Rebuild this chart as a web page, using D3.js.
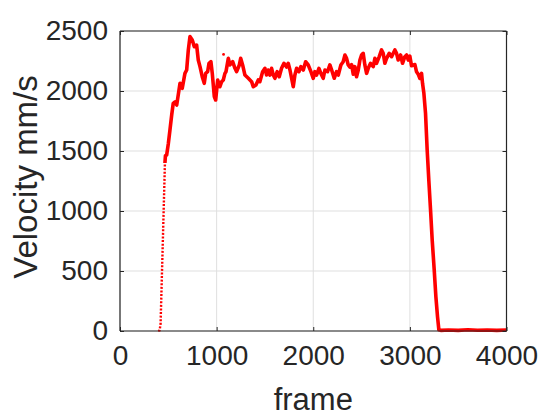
<!DOCTYPE html>
<html>
<head>
<meta charset="utf-8">
<script src="https://cdn.jsdelivr.net/npm/d3@7"></script>
<style>
  html, body { margin: 0; padding: 0; background: #fff; }
  svg { display: block; }
  text { font-family: "Liberation Sans", Arial, Helvetica, sans-serif; fill: #262626; }
</style>
</head>
<body>
<svg id="chart" width="560" height="420"></svg>
<script>
const frames = [395,410,420,440,455,465,470,483,500,517,535,551,570,587,605,621,644,672,690,707,724,748,769,793,810,828,851,872,887,907,921,941,955,976,990,1011,1034,1052,1069,1086,1097,1121,1138,1166,1190,1207,1235,1249,1269,1293,1328,1362,1379,1407,1431,1448,1476,1500,1517,1534,1552,1569,1586,1603,1627,1648,1672,1697,1724,1741,1759,1783,1793,1810,1828,1852,1872,1897,1921,1948,1976,2000,2017,2034,2059,2079,2103,2121,2148,2172,2196,2217,2241,2259,2286,2310,2328,2345,2362,2379,2397,2414,2431,2448,2466,2483,2500,2517,2534,2552,2569,2593,2621,2638,2655,2683,2707,2724,2741,2759,2786,2811,2828,2845,2862,2879,2904,2924,2948,2966,2983,3000,3017,3034,3052,3069,3086,3103,3121,3131,3145,3162,3179,3196,3214,3231,3252,3269,3286,3300,3320,3400,3500,3600,3700,3800,3900,4000];
const velocity = [0,5,60,650,1100,1400,1460,1467,1560,1675,1800,1897,1910,1883,1980,2064,2022,2147,2175,2342,2453,2425,2369,2383,2258,2203,2119,2064,2147,2161,2231,2244,2147,1953,1925,2092,2036,2078,2092,2147,2161,2272,2217,2244,2189,2161,2217,2272,2217,2133,2106,2078,2036,2050,2092,2078,2161,2189,2133,2175,2133,2189,2133,2106,2161,2119,2189,2231,2200,2231,2175,2078,2036,2133,2189,2161,2203,2175,2244,2217,2161,2106,2161,2133,2189,2147,2106,2175,2161,2217,2161,2106,2161,2133,2217,2244,2300,2272,2217,2200,2220,2140,2203,2119,2175,2258,2300,2314,2217,2147,2189,2231,2203,2272,2231,2286,2342,2314,2231,2272,2314,2286,2314,2342,2314,2258,2300,2231,2286,2300,2258,2290,2210,2217,2220,2160,2140,2106,2147,2064,1981,1814,1508,1258,1008,758,508,286,119,10,5,8,5,10,6,8,5,8];
const outlierFrames = [1072];
const outlierVelocity = [2305];
const xTicks = [0, 1000, 2000, 3000, 4000];
const yTicks = [0, 500, 1000, 1500, 2000, 2500];
const xLabel = "frame";
const yLabel = "Velocity mm/s";
const riseEnd = 465;

const svg = d3.select("#chart");
const L = 120, R = 506.5, T = 31, B = 331;
const x = d3.scaleLinear().domain([0, 4000]).range([L, R]);
const y = d3.scaleLinear().domain([0, 2500]).range([B, T]);
const axisColor = "#262626";
const gridColor = "#dfdfdf";

// grid
const grid = svg.append("g");
grid.selectAll("line.gx").data(xTicks).enter().append("line")
  .attr("x1", d => x(d)).attr("x2", d => x(d)).attr("y1", T).attr("y2", B)
  .attr("stroke", gridColor).attr("stroke-width", 1);
grid.selectAll("line.gy").data(yTicks).enter().append("line")
  .attr("y1", d => y(d)).attr("y2", d => y(d)).attr("x1", L).attr("x2", R)
  .attr("stroke", gridColor).attr("stroke-width", 1);

// data
const pts = frames.map((f, i) => ({ f, v: velocity[i] }));
const line = d3.line().x(d => x(d.f)).y(d => y(d.v));
const rise = pts.filter(d => d.f <= riseEnd);
const rest = pts.filter(d => d.f >= riseEnd);
svg.append("path").datum(rise).attr("d", line)
  .attr("fill", "none").attr("stroke", "#ff0000").attr("stroke-width", 2.4)
  .attr("stroke-dasharray", "2,1.6");
svg.append("path").datum(rest).attr("d", line)
  .attr("fill", "none").attr("stroke", "#ff0000").attr("stroke-width", 3.6)
  .attr("stroke-linejoin", "round");
svg.selectAll("circle.o").data(outlierFrames).enter().append("circle")
  .attr("cx", d => x(d)).attr("cy", (d, i) => y(outlierVelocity[i])).attr("r", 1.4)
  .attr("fill", "#ff0000");

// axes (box with inward ticks on all sides)
const ax = svg.append("g");
const xb = d3.axisBottom(x).tickValues(xTicks).tickSize(-4).tickPadding(14).tickFormat(d3.format("d"));
const xt = d3.axisTop(x).tickValues(xTicks).tickSize(-4).tickFormat("");
const yl = d3.axisLeft(y).tickValues(yTicks).tickSize(-4).tickPadding(12).tickFormat(d3.format("d"));
const yr = d3.axisRight(y).tickValues(yTicks).tickSize(-4).tickFormat("");
function style(g) {
  g.select(".domain").attr("stroke", axisColor).attr("stroke-width", 1.2);
  g.selectAll(".tick line").attr("stroke", axisColor).attr("stroke-width", 1);
  g.selectAll(".tick text").attr("fill", axisColor).style("font-size", "28px")
    .style("font-family", '"Liberation Sans", Arial, sans-serif');
}
ax.append("g").attr("transform", `translate(0,${B})`).call(xb).call(style)
  .call(g => g.select(".domain").attr("d", `M${L},0H${R}`));
ax.append("g").attr("transform", `translate(0,${T})`).call(xt).call(style)
  .call(g => g.select(".domain").attr("d", `M${L},0H${R}`));
ax.append("g").attr("transform", `translate(${L},0)`).call(yl).call(style)
  .call(g => g.select(".domain").attr("d", `M0,${T}V${B}`));
ax.append("g").attr("transform", `translate(${R},0)`).call(yr).call(style)
  .call(g => g.select(".domain").attr("d", `M0,${T}V${B}`));

// labels
svg.append("text").attr("x", (L + R) / 2).attr("y", 410).attr("text-anchor", "middle")
  .style("font-size", "31px").text(xLabel);
svg.append("text").attr("transform", `translate(37,177) rotate(-90)`)
  .attr("text-anchor", "middle").style("font-size", "33px").text(yLabel);
</script>
</body>
</html>
